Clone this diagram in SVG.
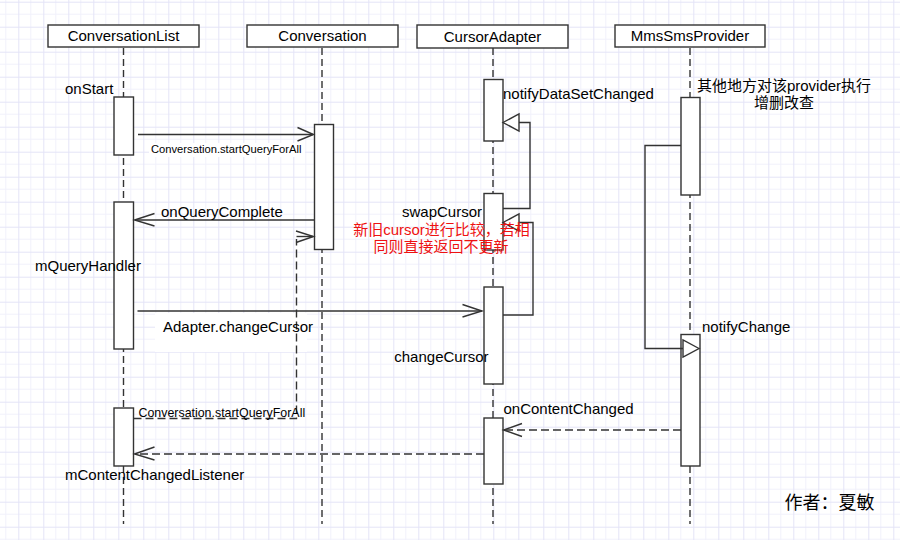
<svg xmlns="http://www.w3.org/2000/svg" width="900" height="540" viewBox="0 0 900 540">
<style>
text{font-family:"Liberation Sans",Arial,"Noto Sans CJK SC",sans-serif;fill:#000;}
.t{font-size:15px;}
.s{font-size:11.2px;}
.h{font-size:15px;text-anchor:middle;}
.cjk{font-size:15px;text-anchor:middle;}
.red{fill:#ee1111;}
.box{fill:#fff;stroke:#333;stroke-width:1.4;}
.act{fill:#fff;stroke:#333;stroke-width:1.4;}
.life{stroke:#333;stroke-width:1.4;stroke-dasharray:7 4;fill:none;}
.msg{stroke:#333;stroke-width:1.4;fill:none;}
.dash{stroke:#333;stroke-width:1.4;fill:none;stroke-dasharray:8 4;}
.head{stroke:#333;stroke-width:1.4;fill:none;}
.tri{stroke:#333;stroke-width:1.4;fill:#fff;}
</style>
<defs>
<pattern id="grid" width="25" height="25" patternUnits="userSpaceOnUse" x="18.3" y="1.7">
<path d="M12.5 0V25M0 12.5H25" stroke="#f1f1fb" stroke-width="1" fill="none"/>
<path d="M0.5 0V25M0 0.5H25" stroke="#e4e4f7" stroke-width="1" fill="none"/>
</pattern>
</defs>
<rect width="900" height="540" fill="#fff"/>
<rect width="900" height="540" fill="url(#grid)"/>

<!-- label backgrounds -->
<rect x="149" y="143" width="156" height="14" fill="#fff"/>
<rect x="155" y="313" width="152" height="39" fill="#fff"/>

<g id="ConversationList">
<line class="life" x1="123.5" y1="48" x2="123.5" y2="524"/>
<rect class="box" x="48" y="25" width="151" height="22"/>
<text class="h" x="123.5" y="41">ConversationList</text>
<rect class="act" x="114" y="97" width="19.5" height="58"/>
<rect class="act" x="114" y="202" width="19.5" height="147"/>
<rect class="act" x="114" y="408" width="19.5" height="58"/>
</g>

<g id="Conversation">
<line class="life" x1="322" y1="48" x2="322" y2="524"/>
<rect class="box" x="247" y="25" width="151" height="22"/>
<text class="h" x="322.5" y="41">Conversation</text>
<rect class="act" x="314.5" y="124.5" width="19" height="125"/>
</g>

<g id="CursorAdapter">
<line class="life" x1="493" y1="48" x2="493" y2="524"/>
<rect class="box" x="417" y="25" width="151" height="23"/>
<text class="h" x="492.5" y="42">CursorAdapter</text>
<rect class="act" x="484" y="79.5" width="19" height="61.5"/>
<rect class="act" x="484" y="193.5" width="19" height="56.5"/>
<rect class="act" x="484" y="287" width="19" height="97"/>
<rect class="act" x="484" y="418" width="19" height="66"/>
</g>

<g id="MmsSmsProvider">
<line class="life" x1="690" y1="48" x2="690" y2="524"/>
<rect class="box" x="615" y="25" width="150" height="22"/>
<text class="h" x="690" y="41">MmsSmsProvider</text>
<rect class="act" x="681" y="97.5" width="19" height="97.5"/>
<rect class="act" x="681" y="334.5" width="19" height="131.5"/>
</g>

<g id="connectors">
<line class="msg" x1="138" y1="134.5" x2="313" y2="134.5"/>
<path class="head" d="M297.5 127.5L313.5 134.5L297.5 141"/>
<line class="msg" x1="314" y1="220" x2="135" y2="220"/>
<path class="head" d="M154.5 213.5L134.5 220L154.5 226"/>
<path class="msg" d="M503 208.5H530V122.5H519"/>
<path class="tri" d="M503 122.5L519 114V131Z"/>
<path class="msg" d="M503 315H533V222.5H519"/>
<path class="tri" d="M503 222.5L519 214V231Z"/>
<line class="msg" x1="137.5" y1="311" x2="482" y2="311"/>
<path class="head" d="M462.5 304.5L482 311L462.5 317"/>
<path class="dash" d="M133.5 418.5H296.5V239"/>
<line class="msg" x1="296.5" y1="236.5" x2="313" y2="236.5"/>
<path class="head" d="M296 231L313.5 236.5L296 242.5"/>
<line class="dash" x1="681" y1="430" x2="504" y2="430"/>
<path class="head" d="M522 423.5L503.5 430L522 436.5"/>
<line class="dash" x1="484" y1="454" x2="135" y2="454"/>
<path class="head" d="M154.5 447L134.5 454L154.5 460"/>
<path class="msg" d="M681 145.5H645V348.5H683"/>
<path class="tri" d="M699 348.5L683 340V357Z"/>
</g>

<g id="labels">
<text class="t" x="65" y="94">onStart</text>
<text class="s" x="151" y="153">Conversation.startQueryForAll</text>
<text class="t" x="161" y="216.5">onQueryComplete</text>
<text class="t" x="35" y="271">mQueryHandler</text>
<text class="t" x="163" y="332">Adapter.changeCursor</text>
<text class="s" x="138.5" y="416.5" style="font-size:12.4px">Conversation.startQueryForAll</text>
<text class="t" x="65" y="479.5">mContentChangedListener</text>
<text class="t" x="503" y="98.5">notifyDataSetChanged</text>
<text class="t" x="482" y="217" text-anchor="end">swapCursor</text>
<text class="cjk red" x="441.5" y="234.5">新旧cursor进行比较，若相</text>
<text class="cjk red" x="441" y="251.5">同则直接返回不更新</text>
<text class="t" x="488.5" y="362" text-anchor="end">changeCursor</text>
<text class="t" x="503.5" y="413.5">onContentChanged</text>
<text class="cjk" x="784" y="90.5">其他地方对该provider执行</text>
<text class="cjk" x="784" y="107.5">增删改查</text>
<text class="t" x="702" y="332">notifyChange</text>
<text x="784.5" y="508.5" style="font-size:18px">作者：夏敏</text>
</g>
</svg>
